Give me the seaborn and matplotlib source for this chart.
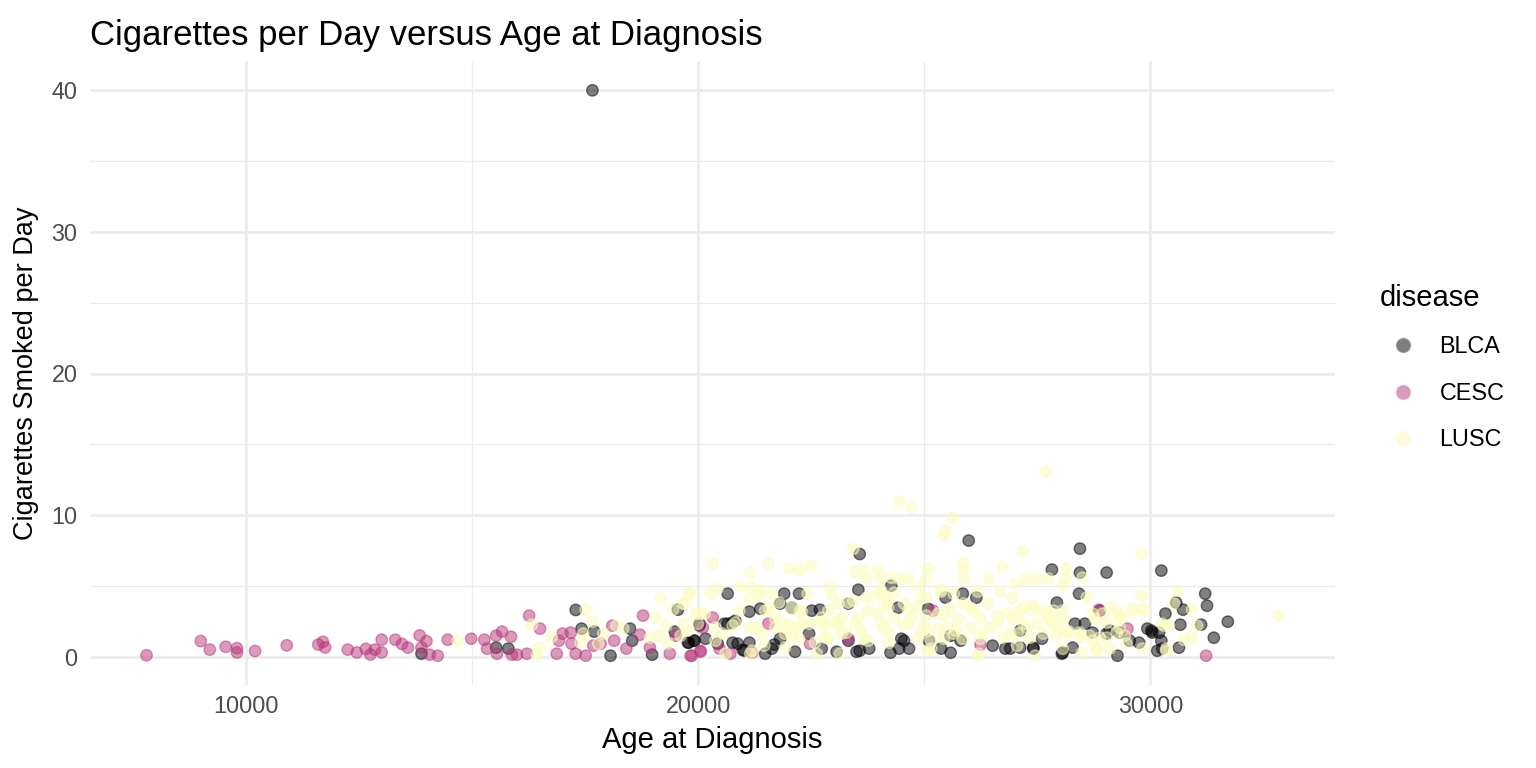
import numpy as np
import pandas as pd
import matplotlib
matplotlib.use("Agg")
import matplotlib.pyplot as plt
import seaborn as sns

# values
blca_age = [17660, 17290, 17420, 17700, 13880, 15530, 15800, 18060, 18490, 18540,
            18980, 19550, 19480, 19770, 19900, 20030,
            20650, 22230, 23570, 23540, 21130, 21370, 21900, 22070, 22510, 22690,
            23320, 19790, 19920, 20870, 21020, 21480, 21680, 21810, 22140, 22450,
            22730, 23060, 23500, 23780, 24250, 24440, 24660, 24420, 24490, 20030,
            20580, 20760,
            25980, 28440, 27820, 28440, 29030, 30240, 28420, 25470, 26150, 27930,
            30330, 25100, 25370, 25580, 25800, 26510, 26790, 27120, 27410, 27600,
            28060, 28330, 28550, 28720, 29030, 29270, 29540, 29750, 29930, 30040,
            30150, 28880,
            31210, 31250, 30570, 30720, 30660, 31120, 31710, 31400, 30190, 30630,
            30020,
            24270, 25080, 25850, 23570, 24550, 25580, 29100, 29320, 30240, 27410,
            28040, 28280, 30260, 27120, 26900, 21810, 20650, 20820, 20160, 20430,
            20760, 20980, 21130, 21630, 23320]
blca_cigs = [40.0, 3.3, 1.98, 1.77, 0.21, 0.64, 0.57, 0.07, 1.98, 1.13,
             0.14, 3.32, 1.77, 0.99, 1.13, 2.19,
             4.45, 4.45, 7.25, 4.73, 3.18, 3.39, 4.45, 3.46, 3.25, 3.32,
             3.75, 0.99, 1.13, 0.92, 0.42, 0.21, 0.85, 1.27, 0.35, 1.63,
             0.57, 0.35, 0.35, 0.57, 0.28, 0.57, 0.57, 3.46, 1.27, 2.33,
             2.33, 2.4,
             8.2, 7.63, 6.15, 5.94, 5.94, 6.08, 4.45, 4.17, 4.17, 3.82,
             3.04, 1.13, 0.57, 0.28, 1.13, 0.78, 0.57, 1.84, 0.64, 1.27,
             0.28, 2.33, 2.33, 1.7, 1.63, 0.07, 1.13, 0.99, 1.98, 1.7,
             0.42, 3.25,
             4.45, 3.6, 3.82, 3.32, 2.26, 2.26, 2.47, 1.34, 1.7, 0.64,
             1.84,
             5.02, 3.39, 4.45, 0.42, 1.13, 1.48, 1.84, 1.7, 1.13, 0.57,
             0.21, 0.64, 0.57, 0.64, 0.57, 3.75, 2.33, 2.54, 1.27, 0.92,
             0.99, 0.49, 0.99, 0.57, 1.13]

cesc_age = [7800, 9000, 9200, 9550, 9800, 9800, 10200, 10900, 11600, 11700,
            11750, 12250, 12450, 12650, 12750, 12850, 13000, 13000, 13300, 13450,
            13580, 13840, 13990, 13880, 14060, 14240, 14460, 14980, 15270, 15330,
            15530, 15660, 15860, 15550, 15880, 15990, 16210, 16260, 16500, 16870,
            16920, 17000, 17180, 17200, 17290, 17510, 17680, 17840, 18140, 18100,
            18410, 18710, 18780, 18930, 19370, 19500, 19830, 20050,
            20320, 19860, 20050, 20470, 20710, 21190, 21550, 22470, 23320, 20100,
            25190, 26240, 28860, 29490, 31230]
cesc_cigs = [0.1, 1.1, 0.5, 0.7, 0.6, 0.3, 0.4, 0.8, 0.85, 1.05,
             0.65, 0.5, 0.3, 0.55, 0.15, 0.5, 1.2, 0.3, 1.2, 0.9,
             0.64, 1.5, 1.1, 0.64, 0.14, 0.07, 1.2, 1.27, 1.2, 0.57,
             1.48, 1.77, 1.41, 0.21, 0.14, 0.14, 0.21, 2.9, 1.98, 0.21,
             1.13, 1.63, 1.7, 0.92, 0.21, 0.07, 0.78, 0.92, 1.13, 2.19,
             0.57, 1.55, 2.9, 0.64, 0.21, 1.48, 0.07, 0.42,
             2.76, 0.07, 0.35, 0.57, 0.21, 0.28, 2.33, 0.92, 1.27, 2.05,
             3.25, 0.85, 3.32, 1.98, 0.07]

lusc_age = [14680, 16320, 16480, 16430, 16760, 17510, 17660, 17900, 18190, 18340,
            17790, 17460, 17400, 19180, 19440, 19700, 19810, 19070, 19290, 19130,
            18930, 19330, 19660, 19610, 20050,
            24440, 24710, 23430, 20320, 21550, 21150, 22010, 22230, 22490, 23460,
            23650, 23720, 23980, 24050, 24440, 24660, 25080, 19810, 20270, 20430,
            20910, 21370, 21350, 21630, 22420, 22910, 22950, 23100, 23720, 23980,
            24200, 24860, 24930, 21130, 20910, 21480, 21700, 22290, 22880, 23760,
            24200, 24640, 19940, 20380, 20760, 21130, 21700, 22010, 22290, 22730,
            23020, 23460, 24050, 24640, 24970, 20380, 21410, 21920, 22800, 23170,
            23760, 24200, 24930, 20600, 21190, 22620, 23130, 25080, 19770, 19660,
            27690, 25630, 25470, 25430, 27190, 29800, 25850, 25850, 26730, 28130,
            25040, 25870, 26420, 27250, 27490, 27740, 28130, 28500, 27010, 28060,
            25370, 25650, 26180, 26680, 26950, 28590, 29800, 25040, 25870, 26400,
            27410, 28060, 29100, 29600, 29870, 29320, 25300, 26090, 26840, 27120,
            27710, 28720, 25520, 26020, 26620, 27270, 27840, 28150, 29030, 29320,
            30260, 25080, 25650, 26240, 26900, 27630, 28440, 28720, 29030, 29470,
            25150, 26200, 27050, 27450, 28060, 28480, 28810, 29820, 30350,
            30590, 30520, 30920, 30300, 30410, 31030, 30740, 30920, 30350, 32830,
            # extra points from the denser band
            21150, 23320, 20140, 21570, 21790, 22070, 22250, 22730, 23170, 19990,
            20820, 21300, 21850, 22140, 22450, 22800, 23100, 20540, 22070, 22230,
            22880, 23280, 21150, 21460, 21920, 22580,
            24270, 24050, 24330, 25370, 23430, 24110, 24550, 24820, 25580, 26020,
            23540, 23980, 24330, 24710, 25040, 25430, 25740, 26240, 26620, 23610,
            24090, 24530, 25320, 25690, 26460, 23670, 24220, 24860, 25150, 25430,
            25850, 26240, 26730, 26180,
            29250, 29360, 29600, 29820, 27190, 27410, 27630, 27850, 28060, 26970,
            27190, 27490, 27780, 27960, 27060, 27340, 27930, 28220, 28440, 28660,
            28880, 29250, 28940, 28770, 28810, 29100, 29430]
lusc_cigs = [1.13, 2.26, 0.64, 0.07, 1.41, 3.32, 2.47, 1.63, 2.19, 1.98,
             0.92, 1.63, 0.99, 4.1, 3.32, 3.75, 4.45, 2.76, 2.19, 1.48,
             1.34, 0.92, 2.33, 1.48, 3.04,
             10.95, 10.53, 7.63, 6.57, 6.57, 5.94, 6.22, 6.08, 6.43, 6.0,
             6.08, 5.51, 6.08, 5.51, 5.51, 5.51, 6.22, 4.45, 4.45, 4.8,
             4.95, 4.73, 4.31, 4.45, 4.45, 4.95, 4.38, 3.75, 4.17, 4.45,
             4.1, 4.88, 4.1, 4.1, 3.25, 3.25, 2.76, 3.18, 3.25, 3.25,
             3.46, 3.25, 3.04, 2.05, 2.19, 2.05, 2.05, 2.19, 2.33, 2.4,
             2.4, 2.4, 2.4, 2.4, 2.19, 1.13, 1.63, 1.63, 1.34, 1.63,
             1.13, 1.7, 1.63, 0.21, 0.42, 0.21, 0.21, 0.42, 1.84, 3.75,
             13.08, 9.82, 8.9, 8.55, 7.42, 7.28, 6.57, 6.22, 6.36, 6.22,
             5.51, 5.51, 5.51, 5.51, 5.51, 5.51, 5.51, 5.58, 5.16, 5.02,
             4.6, 4.45, 4.6, 4.6, 4.17, 4.17, 4.31, 4.17, 3.75, 3.75,
             3.6, 3.25, 3.46, 3.39, 3.25, 2.9, 3.04, 3.25, 3.04, 3.25,
             3.04, 3.04, 2.05, 2.05, 2.4, 2.05, 2.33, 1.84, 2.4, 2.05,
             2.33, 1.84, 1.63, 1.63, 1.63, 1.63, 1.34, 1.13, 1.34, 0.92,
             0.57, 0.21, 0.78, 0.07, 0.57, 0.28, 0.42, 0.57, 0.57,
             4.66, 3.75, 3.32, 2.19, 2.19, 2.19, 1.2, 1.34, 0.42, 2.9,
             4.95, 3.82, 3.04, 3.39, 3.82, 3.46, 3.25, 2.76, 2.76, 2.33,
             2.4, 2.05, 2.4, 2.05, 2.33, 2.19, 2.33, 1.63, 1.48, 1.27,
             1.27, 1.7, 0.21, 0.78, 0.64, 0.99,
             5.58, 4.66, 4.52, 4.73, 3.96, 3.96, 3.75, 3.46, 3.46, 3.46,
             2.76, 3.04, 2.69, 2.76, 2.9, 2.9, 2.69, 2.76, 2.9, 1.84,
             2.05, 2.19, 1.98, 1.84, 2.05, 1.27, 0.99, 1.27, 1.13, 1.27,
             1.27, 1.27, 1.34, 0.07,
             3.25, 2.76, 3.25, 3.39, 3.46, 3.25, 3.25, 3.25, 2.76, 2.69,
             2.33, 2.33, 2.54, 2.05, 1.63, 1.34, 1.48, 1.7, 1.7, 1.48,
             1.34, 1.7, 3.04, 2.69, 0.57, 0.57, 1.48]

diseases = ["BLCA", "CESC", "LUSC"]
colors = {"BLCA": "#000004", "CESC": "#B63679", "LUSC": "#FCFDBF"}

df = pd.concat([
    pd.DataFrame({"age": blca_age, "cigs": blca_cigs, "disease": "BLCA"}),
    pd.DataFrame({"age": cesc_age, "cigs": cesc_cigs, "disease": "CESC"}),
    pd.DataFrame({"age": lusc_age, "cigs": lusc_cigs, "disease": "LUSC"}),
], ignore_index=True)

sns.set_theme(style="white")
plt.rcParams["font.family"] = ["Liberation Sans", "DejaVu Sans"]
plt.rcParams["text.color"] = "black"
plt.rcParams["axes.labelcolor"] = "black"

fig, ax = plt.subplots(figsize=(15.36, 7.68), dpi=100)
fig.subplots_adjust(left=90 / 1536, right=1335 / 1536, top=1 - 62 / 768, bottom=1 - 685 / 768)

sns.scatterplot(data=df, x="age", y="cigs", hue="disease", hue_order=diseases,
                palette=colors, alpha=0.5, s=68, linewidth=1.0, ax=ax)
# 描边和填充同色
for coll in ax.collections:
    coll.set_edgecolor(coll.get_facecolor())

ax.set_xlim(6550, 34080)
ax.set_ylim(-2, 42)
ax.set_xticks([10000, 20000, 30000])
ax.set_yticks([0, 10, 20, 30, 40])
ax.set_xticks([15000, 25000], minor=True)
ax.set_yticks([5, 15, 25, 35], minor=True)
ax.grid(which="major", color="#EBEBEB", linewidth=1.8)
ax.grid(which="minor", color="#EBEBEB", linewidth=0.9)
ax.set_axisbelow(True)
for sp in ax.spines.values():
    sp.set_visible(False)
ax.tick_params(which="both", length=0, labelsize=16.8, labelcolor="#4D4D4D")
ax.tick_params(axis="y", pad=9)
ax.tick_params(axis="x", pad=7)

ax.set_xlabel("Age at Diagnosis", fontsize=21, labelpad=6)
ax.set_ylabel("Cigarettes Smoked per Day", fontsize=19.5, labelpad=9)
ax.set_title("Cigarettes per Day versus Age at Diagnosis", loc="left", fontsize=25, pad=12)

sns.move_legend(ax, "upper left", bbox_to_anchor=(1359 / 1536, 1 - 263 / 768),
                bbox_transform=fig.transFigure, frameon=False,
                title="disease", fontsize=16.8, title_fontsize=21,
                labelspacing=1.0, handletextpad=0.55, markerscale=1.35)
leg = ax.get_legend()
leg._legend_box.align = "left"
for h in leg.legend_handles:
    h.set_alpha(0.5)

fig.savefig("out.png", dpi=100)
